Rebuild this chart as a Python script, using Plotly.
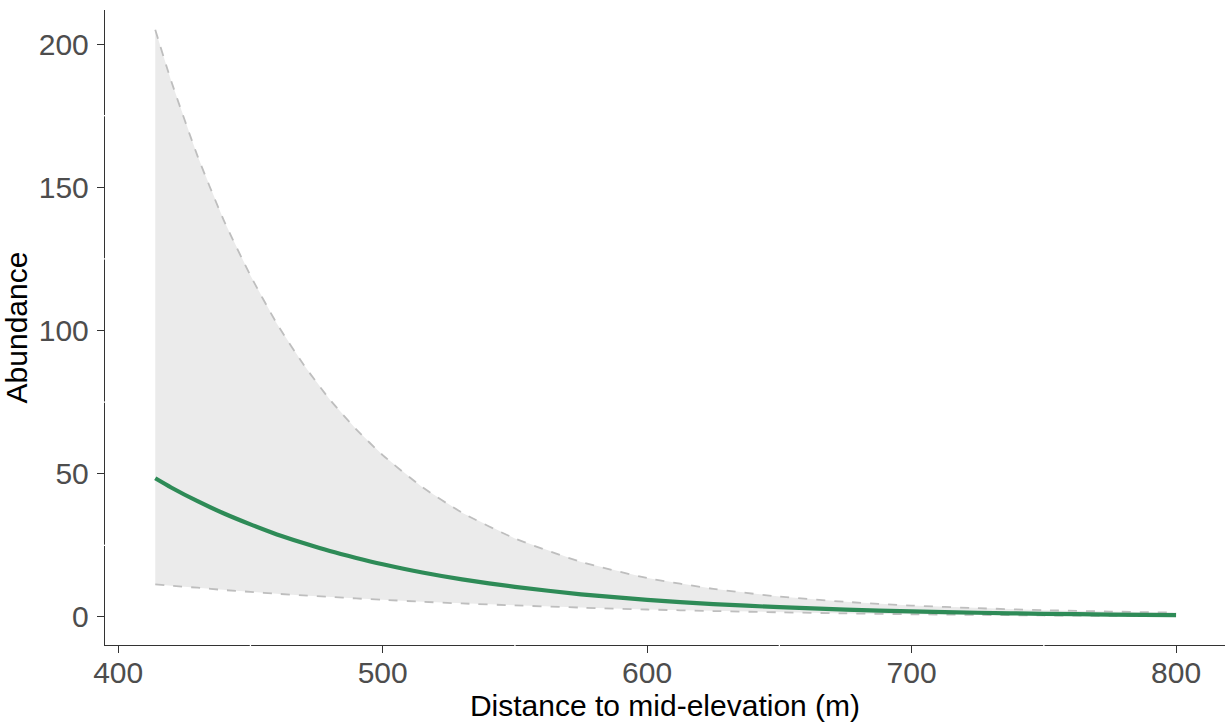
import plotly.graph_objects as go

# Data
distance = [414, 420, 430, 440, 450, 460, 470, 480, 490, 500, 515, 530, 550, 575, 600,
            625, 650, 675, 700, 725, 750, 775, 800]
fit = [48.4, 45.2, 40.4, 36.1, 32.3, 28.8, 25.8, 23.0, 20.6, 18.4, 15.5, 13.1, 10.5, 7.9, 5.96,
       4.5, 3.39, 2.56, 1.93, 1.46, 1.10, 0.83, 0.63]
upper = [205.0, 187.2, 160.9, 138.3, 119.2, 102.4, 88.2, 75.9, 65.5, 56.5, 45.3, 36.4, 27.4, 19.2, 13.6,
         9.8, 7.1, 5.27, 3.97, 3.05, 2.37, 1.88, 1.51]
lower = [11.4, 10.9, 10.2, 9.4, 8.75, 8.1, 7.5, 7.0, 6.45, 5.99, 5.3, 4.7, 4.02, 3.25, 2.60,
         2.06, 1.61, 1.24, 0.94, 0.70, 0.51, 0.37, 0.26]

x_ticks = [400, 500, 600, 700, 800]
y_ticks = [0, 50, 100, 150, 200]
x_minor = [450, 550, 650, 750]
y_minor = [25, 75, 125, 175]

X_RANGE = [395.0, 818.5]
Y_RANGE = [-9.8, 211.9]

FONT = "Liberation Sans, Arial, sans-serif"

fig = go.Figure()

# ribbon
fig.add_trace(go.Scatter(
    x=distance + distance[::-1], y=upper + lower[::-1],
    fill="toself", fillcolor="#ebebeb", line=dict(width=0),
    mode="lines", hoverinfo="skip", showlegend=False,
))
# dashed bounds
for series in (upper, lower):
    fig.add_trace(go.Scatter(
        x=distance, y=series, mode="lines",
        line=dict(color="#bebebe", width=1.8, dash="dash", shape="spline", smoothing=0.6),
        showlegend=False,
    ))
# fitted line
fig.add_trace(go.Scatter(
    x=distance, y=fit, mode="lines",
    line=dict(color="#2e8b57", width=4.2, shape="spline", smoothing=0.6),
    showlegend=False,
))

# small white breaks in the axis lines at minor break positions (as in the reference)
shapes = []
for xv in x_minor:
    shapes.append(dict(type="line", xref="x", yref="paper", x0=xv, x1=xv, y0=-0.004, y1=0.004,
                       line=dict(color="white", width=1.3), layer="above"))
for yv in y_minor:
    shapes.append(dict(type="line", xref="paper", yref="y", x0=-0.002, x1=0.002, y0=yv, y1=yv,
                       line=dict(color="white", width=1.3), layer="above"))

fig.update_layout(
    width=1225, height=724,
    margin=dict(l=105, r=0, t=10, b=79),
    paper_bgcolor="white", plot_bgcolor="white",
    font=dict(family=FONT),
    showlegend=False,
    shapes=shapes,
)
fig.update_xaxes(
    range=X_RANGE, tickvals=x_ticks, ticktext=[str(v) for v in x_ticks],
    showgrid=False, zeroline=False,
    showline=True, linecolor="#333333", linewidth=1.4,
    ticks="outside", ticklen=7, tickwidth=1.4, tickcolor="#333333",
    ticklabelstandoff=-6,
    tickfont=dict(size=30, color="#4d4d4d", family=FONT),
    title=dict(text="Distance to mid-elevation (m)", font=dict(size=30, color="black", family=FONT), standoff=0),
)
fig.update_yaxes(
    range=Y_RANGE, tickvals=y_ticks, ticktext=[str(v) for v in y_ticks],
    showgrid=False, zeroline=False,
    showline=True, linecolor="#333333", linewidth=1.4,
    ticks="outside", ticklen=7, tickwidth=1.4, tickcolor="#333333",
    ticklabelstandoff=2,
    tickfont=dict(size=30, color="#4d4d4d", family=FONT),
    title=dict(text="Abundance", font=dict(size=30, color="black", family=FONT), standoff=4),
)

fig.write_html("out.html")
